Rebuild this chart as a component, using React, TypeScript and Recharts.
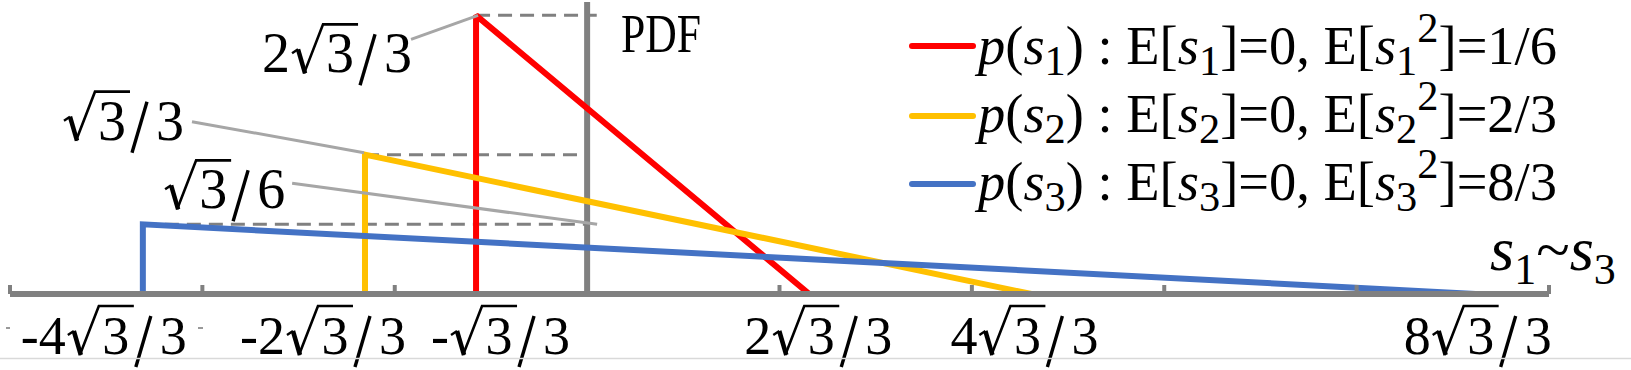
import React from 'react';
import { ComposedChart, Line, Scatter, XAxis, YAxis, ReferenceLine } from 'recharts';

const W = 1631;
const H = 370;
const SERIF = '"Liberation Serif", "Times New Roman", serif';

// x axis ticks (Excel grid every 1)
const xTicks = [-3, -2, -1, 0, 1, 2, 3, 4, 5];

// triangle pdfs: corners (x, density)
const s1X = [-0.5774, -0.5774, 1.1547];
const s1Y = [0, 1.1547, 0];
const s2X = [-1.1547, -1.1547, 2.3094];
const s2Y = [0, 0.5774, 0];
const s3X = [-2.3094, -2.3094, 4.6188];
const s3Y = [0, 0.2887, 0];

const seriesIds = ['1', '2', '3'];
const secondMoments = ['1/6', '2/3', '8/3'];

// labels under the axis
const axisLabelX = [-2.3094, -1.1547, -0.5774, 1.1547, 2.3094, 4.6188];
const axisLabelCoef = ['-4', '-2', '-', '2', '4', '8'];
const axisLabelDen = ['3', '3', '3', '3', '3', '3'];

// heights marked at the left
const heightX = [-0.5774, -1.1547, 0];
const heightY = [1.1547, 0.5774, 0.2887];
const heightCoef = ['2', '', ''];
const heightDen = ['3', '3', '6'];
const guideFromX = [-0.5774, -1.1547, -2.3094];
const guideToX = [0.05, 0, 0];

// styles / pixel offsets
const colors = ['#FF0000', '#FFC000', '#4472C4'];
const axisGray = '#808080';
const leaderGray = '#A6A6A6';
const axisLabelShift = [-122, -125, -45, -65, -81, -72];
const heightLabelPos = [
  { tx: -214, ty: 57, lx: -65, ly: 24, ex: 2, ey: 0 },
  { tx: -303, ty: -15, lx: -173, ly: -33, ex: -1, ey: -2 },
  { tx: -424, ty: -16, lx: -295, ly: -41, ex: 10, ey: 0 },
];
const legendLineY = [46, 116, 184];
const legendBaseY = [64, 132, 200];

const toPts = (xs: number[], ys: number[]) => xs.map((x, i) => ({ x, y: ys[i] }));
const series = [toPts(s1X, s1Y), toPts(s2X, s2Y), toPts(s3X, s3Y)];
const axisLabelData = axisLabelX.map((x, i) => ({ x, y: 0, i }));
const heightData = heightX.map((x, i) => ({ x, y: heightY[i], i }));

type RadProps = { x: number; y: number; coef: string; den: string; fs?: number };

function RadicalText({ x, y, coef, den, fs = 54 }: RadProps) {
  const cw = coef.split('').reduce((s, c) => s + (c === '-' ? 0.333 : 0.5) * fs, 0);
  const rx = x + cw;
  const bx = rx + 33;
  const sx = bx + 34;
  const top = y - 48;
  return (
    <g>
      {coef && (
        <text x={x} y={y} fontFamily={SERIF} fontSize={fs} fill="#000">
          {coef}
        </text>
      )}
      <line x1={rx + 2} y1={y - 19} x2={rx + 8} y2={y - 23} stroke="#000" strokeWidth={2.4} />
      <line x1={rx + 8} y1={y - 23} x2={rx + 15} y2={y + 1} stroke="#000" strokeWidth={4.5} />
      <polyline
        points={`${rx + 14},${y + 1} ${bx},${top} ${bx + 35},${top}`}
        stroke="#000"
        strokeWidth={2.6}
        fill="none"
      />
      <text x={bx + 17} y={y} textAnchor="middle" fontFamily={SERIF} fontSize={fs} fill="#000">
        3
      </text>
      <line x1={sx + 3} y1={y + 13} x2={sx + 18} y2={y - 38} stroke="#000" strokeWidth={3.4} />
      <text x={sx + 27} y={y} fontFamily={SERIF} fontSize={fs} fill="#000">
        {den}
      </text>
    </g>
  );
}

const axisLabelShape = (p: any) => {
  const i = p.payload.i;
  return (
    <RadicalText x={p.cx + axisLabelShift[i]} y={p.cy + 60} coef={axisLabelCoef[i]} den={axisLabelDen[i]} />
  );
};

const heightShape = (p: any) => {
  const i = p.payload.i;
  const s = heightLabelPos[i];
  return (
    <g>
      <line
        x1={p.cx + s.lx}
        y1={p.cy + s.ly}
        x2={p.cx + s.ex}
        y2={p.cy + s.ey}
        stroke={leaderGray}
        strokeWidth={3}
      />
      <RadicalText x={p.cx + s.tx} y={p.cy + s.ty} coef={heightCoef[i]} den={heightDen[i]} fs={56} />
    </g>
  );
};

function LegendRow({ i }: { i: number }) {
  const id = seriesIds[i];
  const b = legendBaseY[i];
  return (
    <g>
      <line x1={912} x2={973} y1={legendLineY[i]} y2={legendLineY[i]} stroke={colors[i]} strokeWidth={6} strokeLinecap="round" />
      <text x={978} y={b} fontFamily={SERIF} fontSize={54} fill="#000" textLength={579} lengthAdjust="spacingAndGlyphs">
        <tspan fontStyle="italic">p</tspan>
        <tspan>(</tspan>
        <tspan fontStyle="italic">s</tspan>
        <tspan fontSize={42} dy={11}>{id}</tspan>
        <tspan dy={-11}>{') : E['}</tspan>
        <tspan fontStyle="italic">s</tspan>
        <tspan fontSize={42} dy={11}>{id}</tspan>
        <tspan dy={-11}>{']=0, E['}</tspan>
        <tspan fontStyle="italic">s</tspan>
        <tspan fontSize={42} dy={11}>{id}</tspan>
        <tspan fontSize={42} dy={-33}>2</tspan>
        <tspan dy={22}>{']=' + secondMoments[i]}</tspan>
      </text>
    </g>
  );
}

export default function App() {
  return (
    <div style={{ position: 'absolute', left: 0, top: 0, width: W, height: H, background: '#fff' }}>
      <ComposedChart width={W} height={H} margin={{ top: 2, right: 82, bottom: 46, left: 10 }}>
        <XAxis
          type="number"
          dataKey="x"
          domain={[-3, 5]}
          ticks={xTicks}
          interval={0}
          tickFormatter={() => ''}
          tickSize={-9}
          height={30}
          axisLine={{ stroke: axisGray, strokeWidth: 6 }}
          tickLine={{ stroke: axisGray, strokeWidth: 4 }}
        />
        <YAxis type="number" dataKey="y" domain={[0, 1.21]} hide />
        {heightY.map((y, i) => (
          <ReferenceLine
            key={'g' + i}
            segment={[
              { x: guideFromX[i], y },
              { x: guideToX[i], y },
            ]}
            stroke={axisGray}
            strokeWidth={3}
            strokeDasharray="14 8"
          />
        ))}
        <ReferenceLine x={0} stroke={axisGray} strokeWidth={6} />
        <Scatter data={heightData} dataKey="y" shape={heightShape} isAnimationActive={false} />
        <Scatter data={axisLabelData} dataKey="y" shape={axisLabelShape} isAnimationActive={false} />
        {series.map((d, i) => (
          <Line
            key={'s' + i}
            data={d}
            dataKey="y"
            type="linear"
            stroke={colors[i]}
            strokeWidth={6}
            strokeLinejoin="miter"
            strokeMiterlimit={2}
            dot={false}
            activeDot={false}
            isAnimationActive={false}
          />
        ))}
      </ComposedChart>
      <svg
        width={W}
        height={H}
        style={{ position: 'absolute', left: 0, top: 0, pointerEvents: 'none' }}
      >
        <line x1={0} x2={W} y1={358.5} y2={358.5} stroke="#D9D9D9" strokeWidth={1.5} />
        <line x1={6} x2={10} y1={328} y2={328} stroke="#777" strokeWidth={1.5} />
        <line x1={198} x2={203} y1={328} y2={328} stroke="#777" strokeWidth={1.5} />
        <text x={621} y={52} fontFamily={SERIF} fontSize={54} fill="#000" textLength={80} lengthAdjust="spacingAndGlyphs">
          PDF
        </text>
        <text x={1490} y={270} fontFamily={SERIF} fontSize={62} fill="#000">
          <tspan fontStyle="italic">s</tspan>
          <tspan fontSize={44} dy={14}>1</tspan>
          <tspan dy={-14}>~</tspan>
          <tspan fontStyle="italic">s</tspan>
          <tspan fontSize={44} dy={14}>3</tspan>
        </text>
        {seriesIds.map((_, i) => (
          <LegendRow key={i} i={i} />
        ))}
      </svg>
    </div>
  );
}
